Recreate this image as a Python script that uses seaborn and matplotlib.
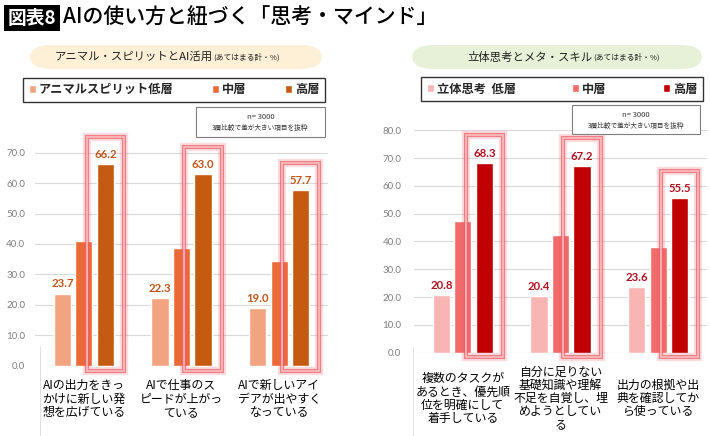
import matplotlib.pyplot as plt
import seaborn as sns
import pandas as pd
from matplotlib.patches import Rectangle, FancyBboxPatch
from matplotlib.lines import Line2D

# data
layers_left = ['アニマルスピリット低層', '中層', '高層']
items_left = ['AIの出力をきっ\nかけに新しい発\n想を広げている',
              'AIで仕事のス\nピードが上がっ\nている',
              'AIで新しいアイ\nデアが出やすく\nなっている']
low_left = [23.7, 22.3, 19.0]
mid_left = [41.0, 38.6, 34.3]
high_left = [66.2, 63.0, 57.7]

layers_right = ['立体思考  低層', '中層', '高層']
items_right = ['複数のタスクが\nあるとき、優先順\n位を明確にして\n着手している',
               '自分に足りない\n基礎知識や理解\n不足を自覚し、埋\nめようとしてい\nる',
               '出力の根拠や出\n典を確認してか\nら使っている']
low_right = [20.8, 20.4, 23.6]
mid_right = [47.5, 42.3, 38.0]
high_right = [68.3, 67.2, 55.5]

colors_left = ['#f2a380', '#ea6b35', '#c55a11']
colors_right = ['#f9b4b4', '#f26b6b', '#c00000']


def to_long(items, layers, low, mid, high):
    rows = []
    for series, name in zip([low, mid, high], layers):
        for it, v in zip(items, series):
            rows.append({'item': it, 'layer': name, 'value': v})
    return pd.DataFrame(rows)


df_left = to_long(items_left, layers_left, low_left, mid_left, high_left)
df_right = to_long(items_right, layers_right, low_right, mid_right, high_right)

sns.set_theme(style='white')
plt.rcParams['font.family'] = ['Noto Sans CJK JP', 'DejaVu Sans']

W, H = 710, 436
fig = plt.figure(figsize=(7.1, 4.36), dpi=100)


def fx(px):
    return px / W


def fy(py):
    return 1 - py / H


# title
fig.text(fx(8), fy(18), '図表8', color='white', fontsize=13.5, weight='bold',
         va='center', ha='left',
         bbox=dict(facecolor='black', edgecolor='none', pad=2.5))
fig.text(fx(63), fy(18), 'AIの使い方と紐づく「思考・マインド」', color='black',
         fontsize=15, weight='medium', va='center', ha='left')


def panel(df, items, layers, colors, lab_color, ax_rect, ymax, yticks,
          box_off, ypad, xpad, pill, pill_color, main_txt, legend_rect,
          nbox):
    ax = fig.add_axes(ax_rect)
    sns.barplot(data=df, x='item', y='value', hue='layer', palette=colors,
                width=0.66, gap=0.2, ax=ax, saturation=1, legend=True)
    ax.set_ylim(0, ymax)
    ax.set_xlim(-0.5, 2.5)
    ax.set_yticks(yticks)
    ax.set_yticklabels([f'{t:.1f}' for t in yticks], fontsize=7,
                       color='#7f7f7f', family='Lato')
    ax.set_xticks(range(len(items)))
    ax.set_xticklabels(items, fontsize=8.6, color='black', va='center',
                       linespacing=1.02)
    ax.tick_params(axis='y', length=0, pad=ypad)
    ax.tick_params(axis='x', length=0, pad=xpad)
    ax.set_xlabel('')
    ax.set_ylabel('')
    ax.grid(axis='y', color='#d9d9d9', linewidth=0.8)
    ax.set_axisbelow(True)
    for s in ax.spines.values():
        s.set_visible(False)

    handles, labels = ax.get_legend_handles_labels()
    ax.get_legend().remove()

    for c in (ax.containers[0], ax.containers[2]):
        ax.bar_label(c, fmt='%.1f', padding=3, color=lab_color, fontsize=8.2,
                     weight='bold', family='Lato')

    # highlight boxes around the high layer
    for p in ax.containers[2]:
        cx = p.get_x() + p.get_width() / 2
        top = p.get_height() + box_off
        for lw, col, a in [(6, '#f06070', 0.22), (3, '#ec5f6a', 0.75),
                           (1.1, '#fbc4c4', 1.0)]:
            ax.add_patch(Rectangle((cx - 0.19, -1.6), 0.38, top + 1.6,
                                   fill=False, edgecolor=col, linewidth=lw,
                                   alpha=a, clip_on=False, zorder=5))

    # header pill
    x0, y0, x1, y1 = pill
    fig.add_artist(FancyBboxPatch((fx(x0), fy(y1)), fx(x1 - x0), (y1 - y0) / H,
                                  boxstyle='round,pad=0,rounding_size=0.03',
                                  transform=fig.transFigure,
                                  facecolor=pill_color, edgecolor='none'))
    fig.text(fx(main_txt[0]), fy((y0 + y1) / 2), main_txt[1],
             fontsize=8.2, ha='right', va='center', color='#222222')
    fig.text(fx(main_txt[0]), fy((y0 + y1) / 2), '(あてはまる計・%)',
             fontsize=5.6, ha='left', va='center', color='#222222')

    # legend
    lx0, ly0, lx1, ly1 = legend_rect
    leg = fig.legend(handles, labels, loc='center',
                     bbox_to_anchor=(fx(lx0), fy(ly1), fx(lx1 - lx0), (ly1 - ly0) / H),
                     mode='expand', ncol=3, fontsize=8.8, frameon=True,
                     fancybox=False, edgecolor='black', borderpad=0.45,
                     handlelength=0.6, handleheight=0.6, handletextpad=0.25,
                     borderaxespad=0)
    leg.get_frame().set_linewidth(1.0)
    for txt in leg.get_texts():
        txt.set_weight('bold')

    # n box
    nx0, ny0, nx1, ny1 = nbox
    fig.add_artist(Rectangle((fx(nx0), fy(ny1)), fx(nx1 - nx0), (ny1 - ny0) / H,
                             transform=fig.transFigure, facecolor='white',
                             edgecolor='#7f7f7f', linewidth=0.8))
    fig.text(fx((nx0 + nx1) / 2), fy(ny0 + 10), 'n= 3000', fontsize=5.5,
             ha='center', va='center', color='#333333')
    fig.text(fx((nx0 + nx1) / 2), fy(ny0 + 21), '3層比較で差が大きい項目を抜粋',
             fontsize=4.8, ha='center', va='center', color='#333333')
    return ax


panel(df_left, items_left, layers_left, colors_left, '#c0551c',
      [fx(35), fy(365.7), fx(293), 228.2 / H], 75,
      [0, 10, 20, 30, 40, 50, 60, 70], 9, 7, 24,
      (30, 45, 322, 69), '#fdf0d6', (213, 'アニマル・スピリットとAI活用'),
      (23, 77, 325, 102), (196, 107, 325, 137))

panel(df_right, items_right, layers_right, colors_right, '#b01020',
      [fx(414), fy(352.7), fx(293), 222.4 / H], 80,
      [0, 10, 20, 30, 40, 50, 60, 70, 80], 10, 9, 33,
      (412, 45, 702, 69), '#e6f1d8', (593, '立体思考とメタ・スキル'),
      (421, 77, 703, 101), (572, 105, 700, 134))

# thin separators under the category area
for xpx, ytop in [(40, 347), (413, 347)]:
    fig.add_artist(Line2D([fx(xpx), fx(xpx)], [fy(ytop), 0], color='#d9d9d9',
                          linewidth=0.6, transform=fig.transFigure))

fig.savefig('out.png', dpi=100)
